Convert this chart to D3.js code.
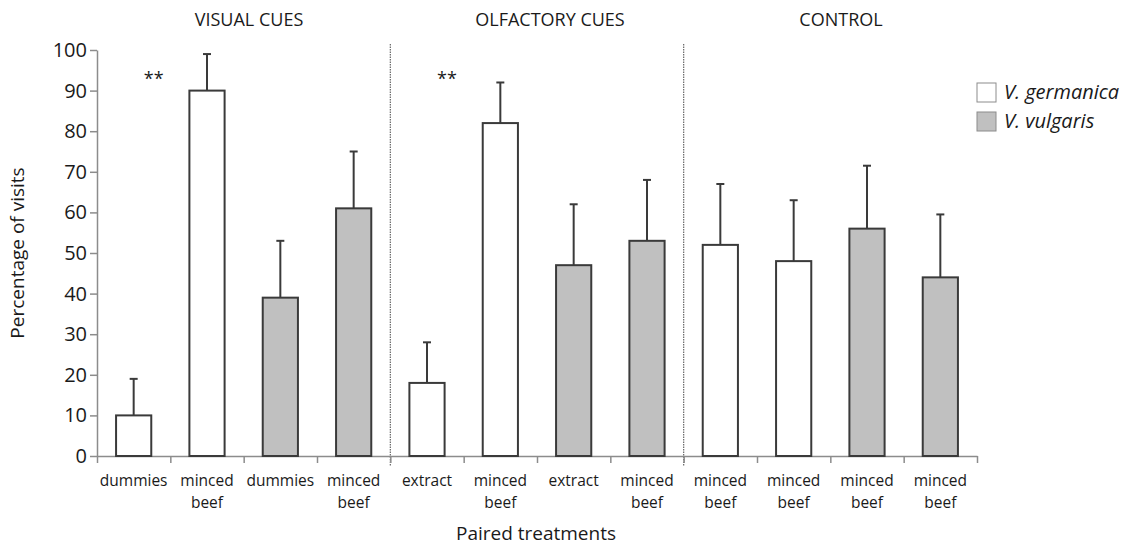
<!DOCTYPE html>
<html>
<head>
<meta charset="utf-8">
<script src="https://cdn.jsdelivr.net/npm/d3@7"></script>
<style>
body { margin: 0; background: #fff; }
text { font-family: "Open Sans", "Noto Sans", sans-serif; fill: #1a1a1a; }
</style>
</head>
<body>
<svg id="chart" width="1136" height="547"></svg>
<script>
// data
var groups = ["VISUAL CUES", "OLFACTORY CUES", "CONTROL"];
var treatments = ["dummies", "minced beef", "dummies", "minced beef",
                  "extract", "minced beef", "extract", "minced beef",
                  "minced beef", "minced beef", "minced beef", "minced beef"];
var species = ["germanica", "germanica", "vulgaris", "vulgaris",
               "germanica", "germanica", "vulgaris", "vulgaris",
               "germanica", "germanica", "vulgaris", "vulgaris"];
var means = [10, 90, 39, 61, 18, 82, 47, 53, 52, 48, 56, 44];
var errTop = [19, 99, 53, 75, 28, 92, 62, 68, 67, 63, 71.5, 59.5];
var starred = [0, 4];
var legendLabels = ["V. germanica", "V. vulgaris"];
var yTicks = [0, 10, 20, 30, 40, 50, 60, 70, 80, 90, 100];

var svg = d3.select("#chart");
var mLeft = 97, mRight = 977, mTop = 50, mBottom = 456;

var x = d3.scaleBand()
    .domain(d3.range(treatments.length))
    .range([mLeft, mRight])
    .paddingInner(0.52)
    .paddingOuter(0.26);
var xl = d3.scaleLinear().domain([0, treatments.length]).range([mLeft, mRight]);
var y = d3.scaleLinear().domain([0, 100]).range([mBottom, mTop]);
var fill = d3.scaleOrdinal().domain(["germanica", "vulgaris"]).range(["#ffffff", "#c0c0c0"]);

// dotted group separators
svg.append("g").selectAll("line")
    .data([4, 8])
    .enter().append("line")
    .attr("x1", d => xl(d)).attr("x2", d => xl(d))
    .attr("y1", 44).attr("y2", 466)
    .attr("stroke", "#666").attr("stroke-width", 1.2)
    .attr("stroke-dasharray", "1.5,1");

// y axis
var yAxis = svg.append("g")
    .attr("transform", "translate(" + mLeft + ",0)")
    .call(d3.axisLeft(y).tickValues(yTicks).tickSize(7).tickSizeOuter(0));
yAxis.select(".domain").attr("stroke", "#8c8c8c").attr("stroke-width", 1.5);
yAxis.selectAll(".tick line").attr("stroke", "#8c8c8c").attr("stroke-width", 1.5);
yAxis.selectAll(".tick text")
    .attr("x", -10)
    .style("font-size", "20px")
    .style("font-family", "'Open Sans', sans-serif")
    .attr("fill", "#1a1a1a");

// x axis (ticks at category boundaries)
var xAxis = svg.append("g")
    .attr("transform", "translate(0," + mBottom + ")")
    .call(d3.axisBottom(xl).tickValues(d3.range(treatments.length + 1)).tickFormat("").tickSize(7).tickSizeOuter(0));
xAxis.select(".domain").attr("stroke", "#8c8c8c").attr("stroke-width", 1.5);
xAxis.selectAll(".tick line").attr("stroke", "#8c8c8c").attr("stroke-width", 1.5);

// error bars
var eb = svg.append("g").selectAll("g")
    .data(means)
    .enter().append("g");
eb.append("line")
    .attr("x1", (d, i) => x(i) + x.bandwidth() / 2)
    .attr("x2", (d, i) => x(i) + x.bandwidth() / 2)
    .attr("y1", d => y(d))
    .attr("y2", (d, i) => y(errTop[i]))
    .attr("stroke", "#3a3a3a").attr("stroke-width", 2);
eb.append("line")
    .attr("x1", (d, i) => x(i) + x.bandwidth() / 2 - 4)
    .attr("x2", (d, i) => x(i) + x.bandwidth() / 2 + 4)
    .attr("y1", (d, i) => y(errTop[i]))
    .attr("y2", (d, i) => y(errTop[i]))
    .attr("stroke", "#3a3a3a").attr("stroke-width", 2);

// bars
svg.append("g").selectAll("rect")
    .data(means)
    .enter().append("rect")
    .attr("x", (d, i) => x(i))
    .attr("y", d => y(d))
    .attr("width", x.bandwidth())
    .attr("height", d => y(0) - y(d))
    .attr("fill", (d, i) => fill(species[i]))
    .attr("stroke", "#3a3a3a")
    .attr("stroke-width", 2);

// significance stars
svg.append("g").selectAll("text")
    .data(starred)
    .enter().append("text")
    .attr("x", d => x(d) + x.bandwidth() / 2 + 20)
    .attr("y", y(91.5))
    .attr("text-anchor", "middle")
    .style("font-size", "18px")
    .text("**");

// category labels
var lab = svg.append("g").selectAll("text")
    .data(treatments)
    .enter().append("text")
    .attr("x", (d, i) => x(i) + x.bandwidth() / 2)
    .attr("y", 486)
    .attr("text-anchor", "middle")
    .style("font-size", "15.5px");
lab.selectAll("tspan")
    .data(d => d.split(" "))
    .enter().append("tspan")
    .attr("x", function () { return d3.select(this.parentNode).attr("x"); })
    .attr("dy", (d, i) => i === 0 ? 0 : 22)
    .text(d => d);

// group titles
svg.append("g").selectAll("text")
    .data(groups)
    .enter().append("text")
    .attr("x", (d, i) => [249, 550, 841][i])
    .attr("y", 26)
    .attr("text-anchor", "middle")
    .style("font-size", "18px")
    .text(d => d);

// axis titles
svg.append("text")
    .attr("transform", "translate(24," + ((mTop + mBottom) / 2) + ") rotate(-90)")
    .attr("text-anchor", "middle")
    .style("font-size", "19px")
    .text("Percentage of visits");
svg.append("text")
    .attr("x", 536)
    .attr("y", 540)
    .attr("text-anchor", "middle")
    .style("font-size", "19px")
    .text("Paired treatments");

// legend
var leg = svg.append("g").selectAll("g")
    .data(legendLabels)
    .enter().append("g")
    .attr("transform", (d, i) => "translate(977," + (83 + i * 29) + ")");
leg.append("rect")
    .attr("width", 19).attr("height", 19)
    .attr("fill", (d, i) => fill(["germanica", "vulgaris"][i]))
    .attr("stroke", "#8c8c8c").attr("stroke-width", 1);
leg.append("text")
    .attr("x", 27).attr("y", 16)
    .style("font-size", "20px")
    .style("font-style", "italic")
    .text(d => d);
</script>
</body>
</html>
